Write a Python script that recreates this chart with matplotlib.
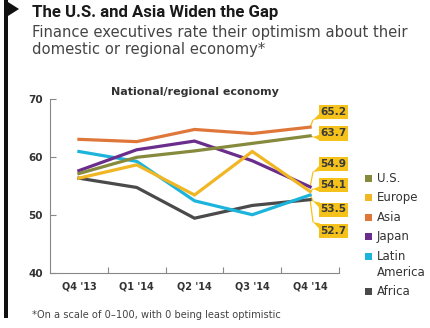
import matplotlib.pyplot as plt
from matplotlib.patches import Rectangle, Polygon

quarters = ["Q4 '13", "Q1 '14", "Q2 '14", "Q3 '14", "Q4 '14"]
us = [57.2, 60.0, 61.1, 62.4, 63.7]
europe = [56.4, 58.7, 53.5, 61.0, 54.1]
asia = [63.1, 62.7, 64.8, 64.1, 65.2]
japan = [57.7, 61.3, 62.8, 59.4, 54.9]
latin_america = [61.0, 59.3, 52.5, 50.1, 53.5]
africa = [56.4, 54.8, 49.5, 51.7, 52.7]

series_names = ['U.S.', 'Europe', 'Asia', 'Japan', 'Latin\nAmerica', 'Africa']
series_values = [us, europe, asia, japan, latin_america, africa]
colors = ['#858a3c', '#f0b623', '#e0773a', '#6b2d8c', '#1db4dc', '#4a4a4a']

W, H = 430, 328
fig = plt.figure(figsize=(W / 100, H / 100), dpi=100)
plt.rcParams['font.family'] = ['DejaVu Sans']


def fpos(x, y):
    # pixel position (from top-left) -> figure fraction
    return x / W, 1 - y / H


ax = fig.add_axes([50 / W, 1 - 273.3 / H, 289 / W, 174 / H])
x = range(len(quarters))
# draw back to front so Africa / Latin America sit under the others like the original
order = [5, 4, 3, 1, 0, 2]
for i in order:
    ax.plot(x, series_values[i], color=colors[i], lw=2.3, solid_joinstyle='miter', zorder=3)

ax.set_xlim(-0.5, 4.5)
ax.set_ylim(40, 70)
ax.set_yticks([40, 50, 60, 70])
ax.set_xticks([i + 0.5 for i in range(4)] + [4.5])
ax.set_xticklabels([])
ax.set_xticks(list(x), minor=True)
ax.set_xticklabels(quarters, minor=True, fontsize=7, fontweight='bold', color='#333333')
ax.tick_params(axis='x', which='minor', length=0, pad=6)
ax.tick_params(axis='both', which='major', direction='in', length=4, color='#888888', width=0.8)
ax.tick_params(axis='y', labelsize=7.5, labelcolor='#333333', pad=5)
for lab in ax.get_yticklabels():
    lab.set_fontweight('bold')
for s in ['top', 'right']:
    ax.spines[s].set_visible(False)
for s in ['left', 'bottom']:
    ax.spines[s].set_color('#888888')
    ax.spines[s].set_linewidth(0.8)
ax.patch.set_alpha(0)

# callout boxes for the last values
callouts = [(asia[4], 112, 120), (us[4], 133.5, 137), (japan[4], 164, 172),
            (europe[4], 185, 189), (latin_america[4], 209.5, 201), (africa[4], 230.5, 222)]
box_yellow = '#f5c21b'
for val, cy, ty in callouts:
    tip = fpos(313, ty)
    ax.annotate('', xy=(4, val), xytext=tip, textcoords='figure fraction',
                arrowprops=dict(arrowstyle='-', color=box_yellow, lw=0.9,
                                shrinkA=0, shrinkB=0), zorder=2)
    x0, y0 = fpos(319, cy + 7)
    fig.patches.append(Rectangle((x0, y0), 29 / W, 14 / H, transform=fig.transFigure,
                                 facecolor=box_yellow, edgecolor='none'))
    if ty > cy + 2:
        tri = [fpos(313, ty), fpos(320, cy + 7), fpos(320, cy + 1)]
    elif ty < cy - 2:
        tri = [fpos(313, ty), fpos(320, cy - 7), fpos(320, cy - 1)]
    else:
        tri = [fpos(313, ty), fpos(320, cy), fpos(320, cy + 7)]
    fig.patches.append(Polygon(tri, closed=True, transform=fig.transFigure,
                               facecolor=box_yellow, edgecolor='none'))
    tx, tyf = fpos(333.5, cy)
    fig.text(tx, tyf, f'{val:.1f}', ha='center', va='center', fontsize=7.6,
             fontweight='bold', color='#3a3a3a')

# legend
leg_y = [178, 197, 217, 236, 256, 291]
for name, c, ly in zip(series_names, colors, leg_y):
    sx, sy = fpos(365, ly + 3.5)
    fig.patches.append(Rectangle((sx, sy), 7 / W, 7 / H, transform=fig.transFigure,
                                 facecolor=c, edgecolor='none'))
    tx, tyf = fpos(377, ly - 6)
    fig.text(tx, tyf, name, ha='left', va='top', fontsize=8.5, color='#333333',
             linespacing=1.35)

# titles
fig.text(*fpos(32, 12), 'The U.S. and Asia Widen the Gap', ha='left', va='center',
         fontsize=12.1, fontweight='bold', color='#1a1a1a', family='Roboto')
fig.text(*fpos(32, 25), 'Finance executives rate their optimism about their\n'
         'domestic or regional economy*', ha='left', va='top', fontsize=10.6,
         color='#444444', linespacing=1.17)
fig.text(*fpos(195, 92), 'National/regional economy', ha='center', va='center',
         fontsize=8, fontweight='bold', color='#333333')
fig.text(*fpos(32, 315), '*On a scale of 0\u2013100, with 0 being least optimistic',
         ha='left', va='center', fontsize=7.1, color='#444444')

# flag bar on the left
fig.patches.append(Rectangle(fpos(4, 318), 4 / W, 318 / H, transform=fig.transFigure,
                             facecolor='#111111', edgecolor='none'))
fig.patches.append(Polygon([fpos(8, 2), fpos(19, 9), fpos(8, 16)], closed=True,
                           transform=fig.transFigure, facecolor='#111111', edgecolor='none'))

fig.savefig('out.png', dpi=100)
